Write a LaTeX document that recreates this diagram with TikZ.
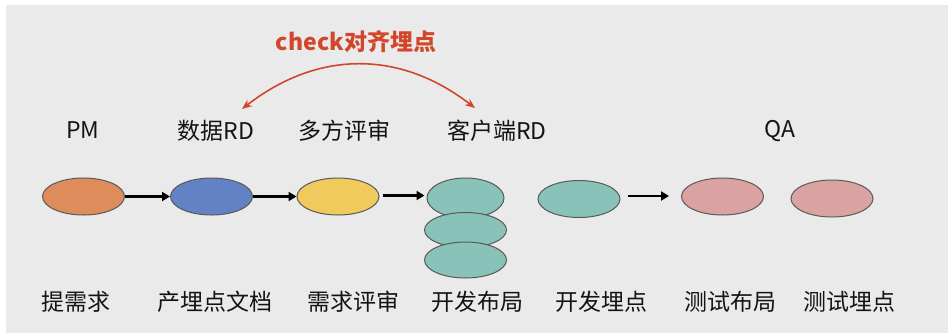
\documentclass[tikz,border=0pt]{standalone}
\usepackage{fontspec}
\setmainfont{Noto Sans CJK SC}
\usetikzlibrary{shapes.geometric,arrows.meta}
\definecolor{bgc}{HTML}{EAEAEA}
\definecolor{cOrange}{HTML}{DE8C5C}
\definecolor{cBlue}{HTML}{6282C4}
\definecolor{cYellow}{HTML}{F0CA5C}
\definecolor{cTeal}{HTML}{89C2B8}
\definecolor{cPink}{HTML}{DAA2A0}
\definecolor{cRed}{HTML}{D2472B}
\tikzset{
  blob/.style={ellipse, draw=black!65, line width=1pt, minimum width=82pt, minimum height=37pt, inner sep=0pt},
  lbl/.style={inner sep=0pt, font=\fontsize{23}{27}\selectfont, text=black!92},
  flow/.style={line width=2.4pt, -{Triangle[length=8pt,width=9pt]}},
  checkarc/.style={cRed, line width=1.6pt, {Stealth[length=10pt,width=8pt]}-{Stealth[length=10pt,width=8pt]}},
}
\begin{document}
\begin{tikzpicture}[x=1pt,y=-1pt]
\useasboundingbox (0,0) rectangle (948,333);
\fill[white] (0,0) rectangle (948,333);
\fill[bgc] (6,5) rectangle (948,333);
% top labels
\node[lbl] (lpm) at (83,130) {PM};
\node[lbl] (ldata) at (216,131) {数据RD};
\node[lbl] (lreview) at (344,131) {多方评审};
\node[lbl] (lclient) at (497,131) {客户端RD};
\node[lbl] (lqa) at (780,131) {QA};
% title
\node[inner sep=0pt, font=\fontsize{23}{27}\selectfont\bfseries, text=cRed] (title) at (356,42) {check对齐埋点};
% ellipses
\node[blob, fill=cOrange] (e1) at (83.5,196.5) {};
\node[blob, fill=cBlue] (e2) at (211.5,196.5) {};
\node[blob, fill=cYellow] (e3) at (338,196.5) {};
\node[blob, fill=cTeal, minimum width=77pt, minimum height=40pt] (e4a) at (465.5,198) {};
\node[blob, fill=cTeal, minimum height=35pt] (e4b) at (465.5,230) {};
\node[blob, fill=cTeal, minimum height=36pt] (e4c) at (465.5,260) {};
\node[blob, fill=cTeal] (e5) at (579,199) {};
\node[blob, fill=cPink] (e6) at (722.5,196.5) {};
\node[blob, fill=cPink] (e7) at (832,198.5) {};
% bottom labels
\node[lbl] (b1) at (76,302) {提需求};
\node[lbl] (b2) at (215,302) {产埋点文档};
\node[lbl] (b3) at (353,302) {需求评审};
\node[lbl] (b4) at (477,302) {开发布局};
\node[lbl] (b5) at (601,302) {开发埋点};
\node[lbl] (b6) at (730,302) {测试布局};
\node[lbl] (b7) at (849,302) {测试埋点};
% flow arrows
\draw[flow] (e1.east) -- (e2.west);
\draw[flow] (e2.east) -- (e3.west);
\draw[flow, shorten <=3pt, shorten >=2pt] (e3.east |- 0,195.5) -- (e4a.west |- 0,195.5);
\draw[flow, shorten <=7pt, shorten >=12pt] (e5.east |- 0,196) -- (e6.west |- 0,196);
% check arc
\coordinate (cl) at (242,109);
\coordinate (cr) at (475,108);
\draw[checkarc] (cl) .. controls (318,50) and (400,50) .. (cr);
\end{tikzpicture}
\end{document}
